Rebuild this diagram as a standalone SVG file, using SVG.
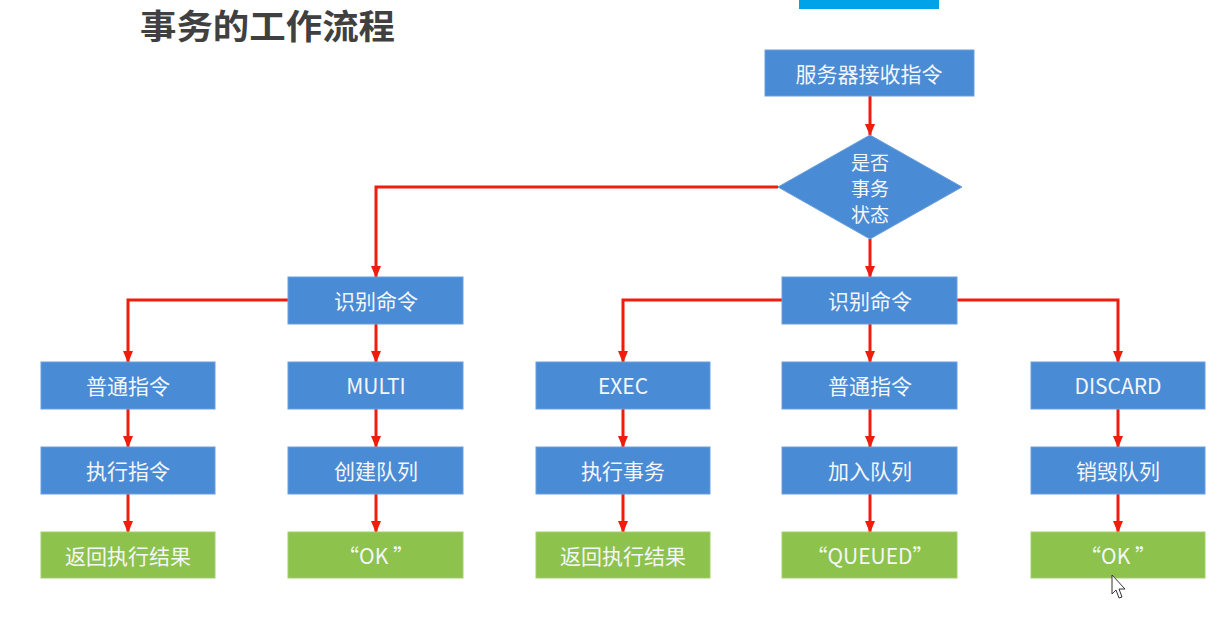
<svg xmlns="http://www.w3.org/2000/svg" width="1217" height="626" viewBox="0 0 1217 626">
<defs>
<style>
.b{fill:#4a8bd5;stroke:#6a9fdc;stroke-width:1}
.g{fill:#8dc24c;stroke:#a2cf6e;stroke-width:1}
.t{font-family:"Noto Sans CJK SC","Microsoft YaHei",sans-serif;font-size:21px;fill:#f4f6fa;text-anchor:middle;dominant-baseline:central}
.d{font-size:19px}
.c{fill:none;stroke:#f01d0c;stroke-width:3;marker-end:url(#ah)}
.title{font-family:"Noto Sans CJK SC",sans-serif;font-size:34px;font-weight:bold;fill:#404040}
</style>
<marker id="ah" viewBox="0 0 12 10" refX="11" refY="5" markerWidth="12" markerHeight="10" markerUnits="userSpaceOnUse" orient="auto">
<path d="M0,0 L12,5 L0,10 z" fill="#f01d0c"/>
</marker>
</defs>
<rect width="1217" height="626" fill="#ffffff"/>
<text class="title" x="140" y="39" textLength="255" lengthAdjust="spacingAndGlyphs">事务的工作流程</text>
<rect x="799" y="0" width="140" height="9" fill="#00a3e8"/>

<g id="connectors">
<path class="c" d="M870,96 V135"/>
<path class="c" d="M778,187 H376 V277"/>
<path class="c" d="M870,239 V277"/>
<path class="c" d="M288,300 H128 V362"/>
<path class="c" d="M376,324 V362"/>
<path class="c" d="M782,300 H623 V362"/>
<path class="c" d="M870,324 V362"/>
<path class="c" d="M957,300 H1118 V362"/>
<path class="c" d="M128,409 V447"/>
<path class="c" d="M376,409 V447"/>
<path class="c" d="M623,409 V447"/>
<path class="c" d="M870,409 V447"/>
<path class="c" d="M1118,409 V447"/>
<path class="c" d="M128,494 V532"/>
<path class="c" d="M376,494 V532"/>
<path class="c" d="M623,494 V532"/>
<path class="c" d="M870,494 V532"/>
<path class="c" d="M1118,494 V532"/>
</g>

<g id="recv"><rect class="b" x="765" y="50" width="209" height="46"/><text class="t" x="869" y="73">服务器接收指令</text></g>
<g id="decision"><polygon class="b" points="870,135 962,187 870,239 778,187"/>
<text class="t d" x="870" y="161">是否</text><text class="t d" x="870" y="187">事务</text><text class="t d" x="870" y="213">状态</text></g>

<g id="identL"><rect class="b" x="288" y="277" width="175" height="47"/><text class="t" x="376" y="300">识别命令</text></g>
<g id="identR"><rect class="b" x="782" y="277" width="175" height="47"/><text class="t" x="870" y="300">识别命令</text></g>

<g id="normal1"><rect class="b" x="41" y="362" width="174" height="47"/><text class="t" x="128" y="385">普通指令</text></g>
<g id="multi"><rect class="b" x="288" y="362" width="175" height="47"/><text class="t" x="376" y="385">MULTI</text></g>
<g id="exec"><rect class="b" x="536" y="362" width="174" height="47"/><text class="t" x="623" y="385">EXEC</text></g>
<g id="normal2"><rect class="b" x="782" y="362" width="175" height="47"/><text class="t" x="870" y="385">普通指令</text></g>
<g id="discard"><rect class="b" x="1031" y="362" width="174" height="47"/><text class="t" x="1118" y="385">DISCARD</text></g>

<g id="run1"><rect class="b" x="41" y="447" width="174" height="47"/><text class="t" x="128" y="470">执行指令</text></g>
<g id="create"><rect class="b" x="288" y="447" width="175" height="47"/><text class="t" x="376" y="470">创建队列</text></g>
<g id="runtx"><rect class="b" x="536" y="447" width="174" height="47"/><text class="t" x="623" y="470">执行事务</text></g>
<g id="enqueue"><rect class="b" x="782" y="447" width="175" height="47"/><text class="t" x="870" y="470">加入队列</text></g>
<g id="destroy"><rect class="b" x="1031" y="447" width="174" height="47"/><text class="t" x="1118" y="470">销毁队列</text></g>

<g id="res1"><rect class="g" x="41" y="532" width="174" height="46"/><text class="t" x="128" y="555">返回执行结果</text></g>
<g id="ok1"><rect class="g" x="288" y="532" width="175" height="46"/><text class="t" x="376" y="555">“OK ”</text></g>
<g id="res2"><rect class="g" x="536" y="532" width="174" height="46"/><text class="t" x="623" y="555">返回执行结果</text></g>
<g id="queued"><rect class="g" x="782" y="532" width="175" height="46"/><text class="t" x="870" y="555">“QUEUED”</text></g>
<g id="ok2"><rect class="g" x="1031" y="532" width="174" height="46"/><text class="t" x="1118" y="555">“OK ”</text></g>

<path d="M1112,575 V594 L1116,590 L1119,598 L1122,597 L1119,589 L1125,589 Z" fill="#ffffff" stroke="#333333" stroke-width="1"/>
</svg>
